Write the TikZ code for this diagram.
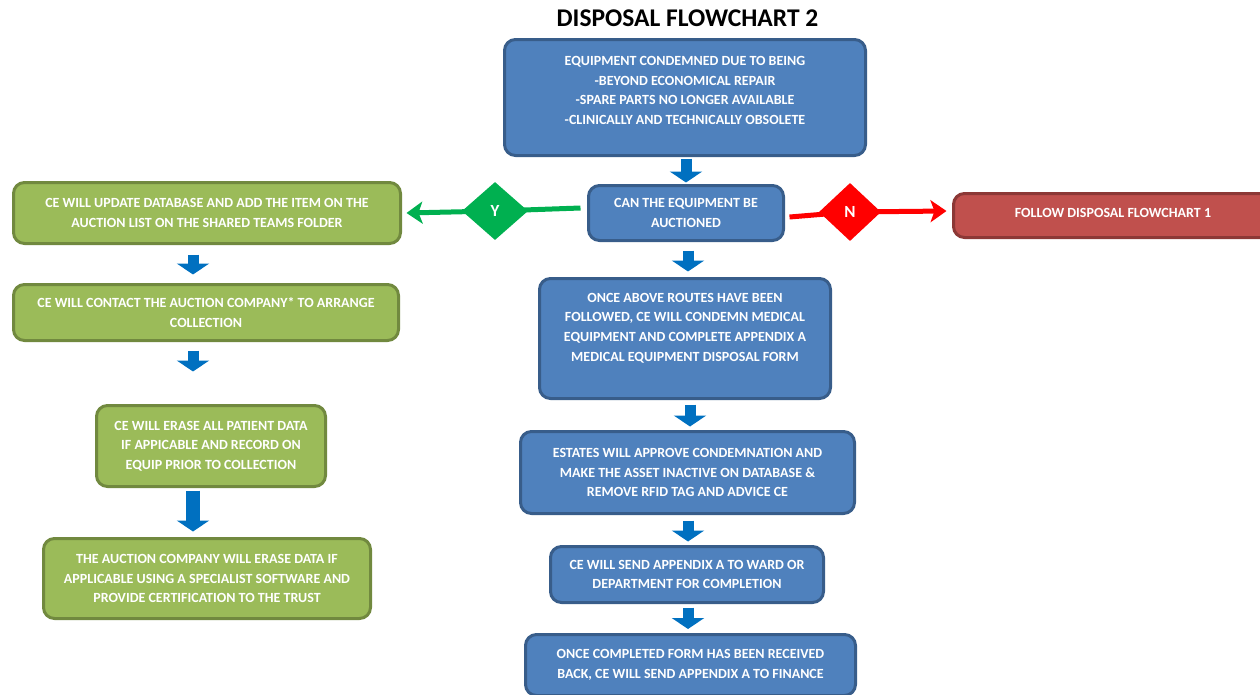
\documentclass[tikz,border=0pt]{standalone}
\usepackage{fontspec}
\setmainfont{Carlito}
\usetikzlibrary{arrows.meta,shapes.geometric,calc,backgrounds}

\definecolor{boxblue}{HTML}{4F81BD}
\definecolor{edgeblue}{HTML}{385D8A}
\definecolor{boxgreen}{HTML}{9BBB59}
\definecolor{edgegreen}{HTML}{71893F}
\definecolor{boxred}{HTML}{C0504D}
\definecolor{edgered}{HTML}{8C3836}
\definecolor{arrowblue}{HTML}{0070C0}
\definecolor{yesgreen}{HTML}{00B050}
\definecolor{nored}{HTML}{FF0000}

\tikzset{
  cardtext/.style={text=white, font=\bfseries\fontsize{14}{19.7}\selectfont, align=center, inner sep=0pt},
  card/.style={rectangle, rounded corners=11pt, line width=3pt, inner sep=0pt, cardtext},
  bluecard/.style={card, fill=boxblue, draw=edgeblue},
  greencard/.style={card, fill=boxgreen, draw=edgegreen},
  redcard/.style={card, fill=boxred, draw=edgered},
  choice/.style={diamond, inner sep=0pt, text=white, font=\bfseries\fontsize{17}{20}\selectfont},
  flowdown/.style={arrowblue, line width=11pt, -{Triangle[width=32pt,length=11pt]}},
  yesline/.style={yesgreen, line width=5pt},
  noline/.style={nored, line width=5pt},
  sidetip/.style={-{Stealth[width=22pt,length=16pt,inset=4pt]}}
}

\begin{document}
\begin{tikzpicture}[x=1pt,y=-1pt]
\useasboundingbox (0,0) rectangle (1260,694);

% title
\node[font=\bfseries\fontsize{25.5}{30}\selectfont] (title) at (687.5,18) {DISPOSAL FLOWCHART 2};

% main column
\node[bluecard, minimum width=361pt, minimum height=116pt] (start) at (685,97.5) {};
\node[cardtext] (starttxt) at (685,90.5) {EQUIPMENT CONDEMNED DUE TO BEING\\-BEYOND ECONOMICAL REPAIR\\-SPARE PARTS NO LONGER AVAILABLE\\-CLINICALLY AND TECHNICALLY OBSOLETE};

\node[bluecard, minimum width=195pt, minimum height=55pt] (ask) at (686,213) {CAN THE EQUIPMENT BE\\AUCTIONED};

\node[bluecard, minimum width=291pt, minimum height=120pt] (condemn) at (685,338.5) {};
\node[cardtext] (condemntxt) at (685,328) {ONCE ABOVE ROUTES HAVE BEEN\\FOLLOWED, CE WILL CONDEMN MEDICAL\\EQUIPMENT AND COMPLETE APPENDIX A\\MEDICAL EQUIPMENT DISPOSAL FORM};

\node[bluecard, minimum width=334pt, minimum height=82pt] (estates) at (687.5,472.5) {ESTATES WILL APPROVE CONDEMNATION AND\\MAKE THE ASSET INACTIVE ON DATABASE \&\\REMOVE RFID TAG AND ADVICE CE};

\node[bluecard, minimum width=273pt, minimum height=56pt] (ward) at (687,574.5) {CE WILL SEND APPENDIX A TO WARD OR\\DEPARTMENT FOR COMPLETION};

\node[bluecard, minimum width=330pt, minimum height=61pt] (finance) at (690.5,665) {ONCE COMPLETED FORM HAS BEEN RECEIVED\\BACK, CE WILL SEND APPENDIX A TO FINANCE};

% "no" branch
\node[redcard, minimum width=320pt, minimum height=44pt] (chart1) at (1113.5,215.5) {};
\node[cardtext] (chart1txt) at (1113,212.5) {FOLLOW DISPOSAL FLOWCHART 1};

% "yes" branch
\node[greencard, minimum width=387pt, minimum height=61pt] (listing) at (207,213) {CE WILL UPDATE DATABASE AND ADD THE ITEM ON THE\\AUCTION LIST ON THE SHARED TEAMS FOLDER};
\node[greencard, minimum width=385pt, minimum height=56pt] (contact) at (206,312.5) {CE WILL CONTACT THE AUCTION COMPANY* TO ARRANGE\\COLLECTION};
\node[greencard, minimum width=229pt, minimum height=81pt] (erase) at (211,446) {CE WILL ERASE ALL PATIENT DATA\\IF APPICABLE AND RECORD ON\\EQUIP PRIOR TO COLLECTION};
\node[greencard, minimum width=327pt, minimum height=80pt] (certify) at (207,578.5) {THE AUCTION COMPANY WILL ERASE DATA IF\\APPLICABLE USING A SPECIALIST SOFTWARE AND\\PROVIDE CERTIFICATION TO THE TRUST};

% decision diamonds
\node[choice, fill=yesgreen, minimum width=66pt, minimum height=58pt] (yes) at (495,211) {Y};
\node[choice, fill=nored, minimum width=62pt, minimum height=58pt] (no) at (850,212) {N};

% branch connectors, behind the diamonds
\begin{scope}[on background layer]
  \draw[yesline] ([xshift=-6.5pt,yshift=5pt]ask.west) -- (yes.center);
  \draw[yesline,sidetip] (yes.center) -- ([xshift=4.5pt]listing.east);
  \draw[noline] ([xshift=4.5pt,yshift=-4pt]ask.east) -- (no.center);
  \draw[noline,sidetip] (no.center) -- ([xshift=-5.5pt,yshift=4.5pt]chart1.west);
\end{scope}

% block arrows, main column
\draw[flowdown] ($(start.south)+(1,1.5)$) -- ($(ask.north)+(0,-1.5)$);
\draw[flowdown] ($(ask.south)+(2,8.5)$) -- ($(condemn.north)+(3,-5.5)$);
\draw[flowdown] ($(condemn.south)+(5,4.5)$) -- ($(estates.north)+(2.5,-3.5)$);
\draw[flowdown] ($(estates.south)+(0.5,5.5)$) -- ($(ward.north)+(1,-3.5)$);
\draw[flowdown] ($(ward.south)+(1,3.5)$) -- ($(finance.north)+(-2.5,-4)$);

% block arrows, auction column
\draw[flowdown] ($(listing.south)+(-14,9.5)$) -- ($(contact.north)+(-13,-8.5)$);
\draw[flowdown] ($(contact.south)+(-13,8.5)$) -- ($(contact.south)+(-13,29.5)$);
\draw[flowdown, line width=14pt] ($(erase.south)+(-18,2.5)$) -- ($(certify.north)+(-14,-5.5)$);
\end{tikzpicture}
\end{document}
